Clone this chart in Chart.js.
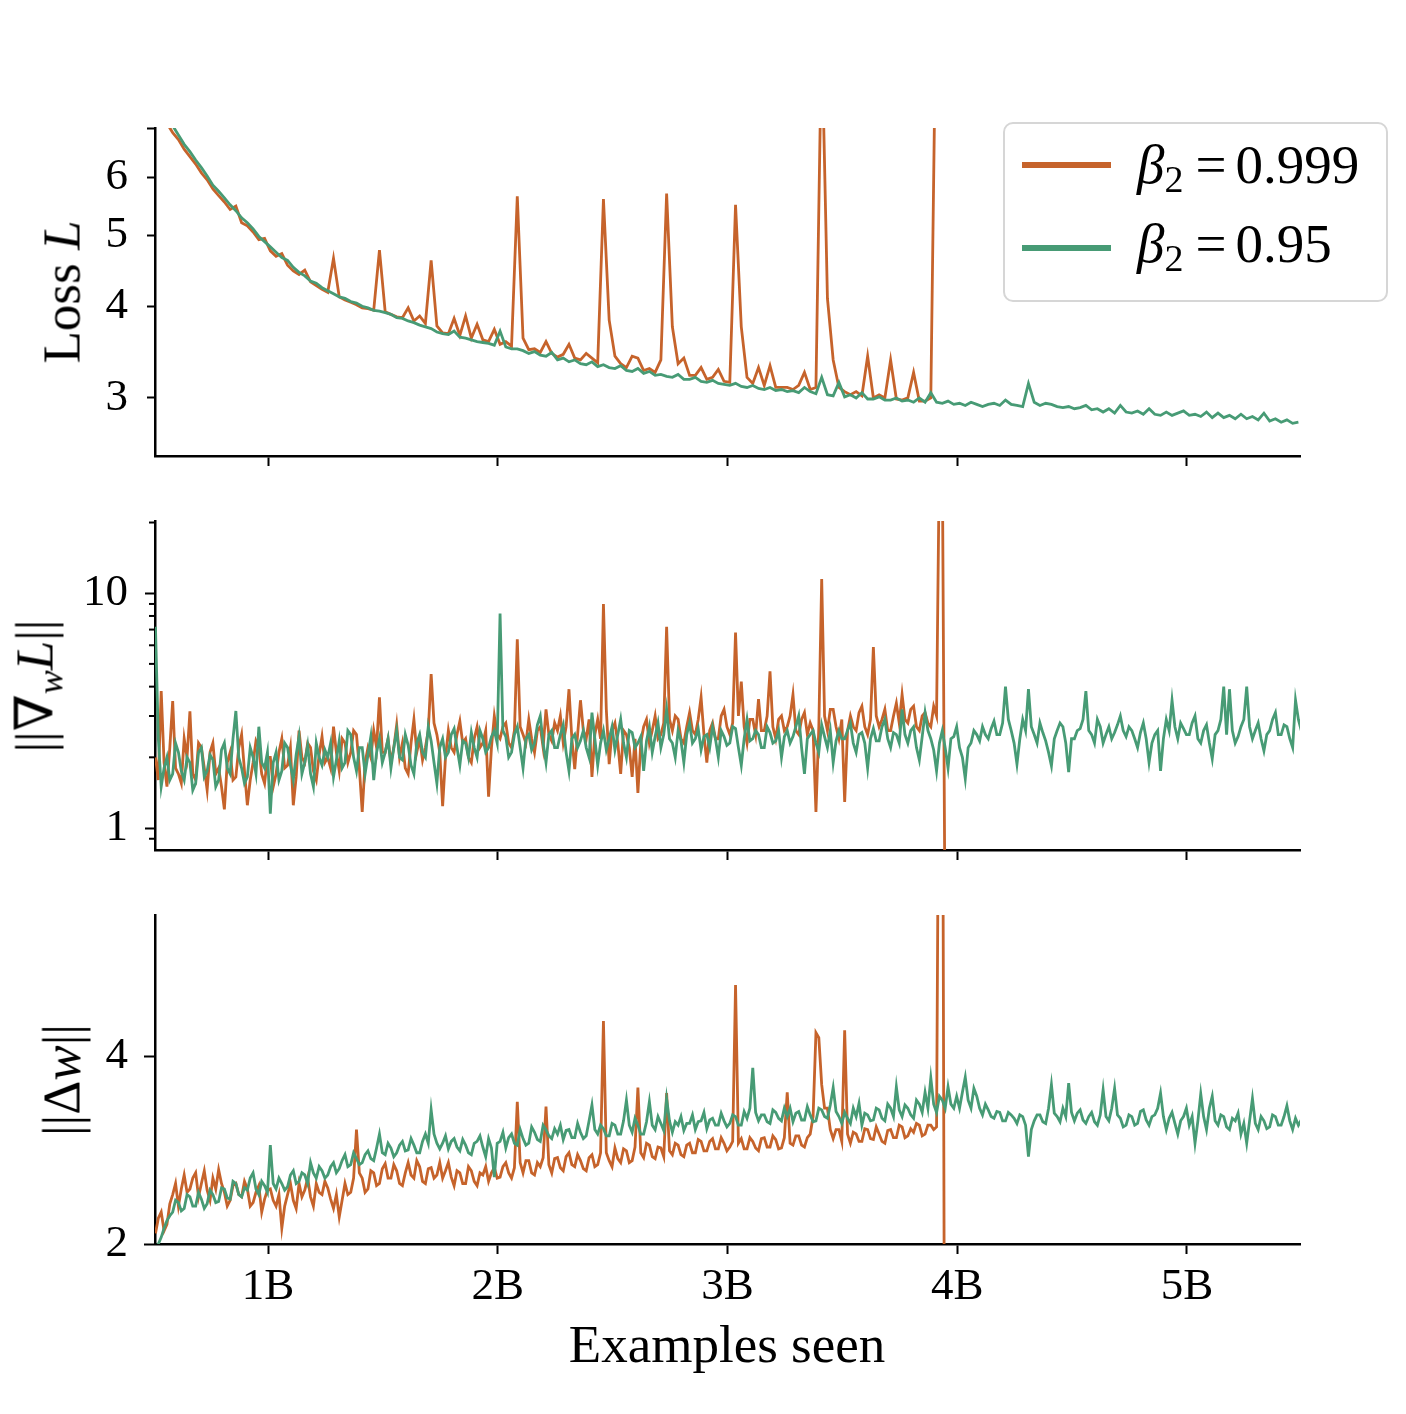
<!DOCTYPE html>
<html>
<head>
<meta charset="utf-8">
<script src="https://cdn.jsdelivr.net/npm/chart.js@4.4.1/dist/chart.umd.min.js"></script>
<style>
  body { margin: 0; width: 1406px; height: 1414px; background: #fff; position: relative; overflow: hidden; font-family: 'Liberation Serif', 'DejaVu Serif', serif; color: #000; }
  canvas { position: absolute; left: 0; }
  .ytitle { position: absolute; font-size: 53px; line-height: 53px; white-space: nowrap; transform: translate(-50%, -50%) rotate(-90deg); }
  .ytitle i { font-style: italic; }
  .sub { font-size: 36px; position: relative; top: 10px; font-style: italic; }
  #xtitle { position: absolute; left: 727px; top: 1318px; font-size: 53px; line-height: 53px; transform: translateX(-50%); white-space: nowrap; }
  #legend { position: absolute; left: 1003px; top: 122px; width: 381px; height: 176px; border: 2px solid #d6d6d6; border-radius: 10px; background: rgba(255,255,255,0.85); }
  .lg-line { position: absolute; left: 17px; width: 89px; height: 6px; }
  .lg-text { position: absolute; left: 132px; font-size: 55px; line-height: 55px; white-space: nowrap; }
  .lg-text .s2 { font-size: 38px; position: relative; top: 9px; }
  .lg-text .eq { margin: 0 9px 0 12px; }
</style>
</head>
<body>
<canvas id="lossChart" width="1406" height="408" style="top:118px"></canvas>
<canvas id="gradChart" width="1406" height="409" style="top:511px"></canvas>
<canvas id="deltaChart" width="1406" height="409" style="top:905px"></canvas>

<div class="ytitle" style="left:62px; top:292px">Loss <i>L</i></div>
<div class="ytitle" style="left:38px; top:686px">||∇<span class="sub">w</span><i>L</i>||</div>
<div class="ytitle" style="left:62px; top:1080px">||Δ<i>w</i>||</div>
<div id="xtitle">Examples seen</div>
<div id="legend"></div>

<script>
// Ejes
const xMin = 0.508, xMax = 5.492;
const xTickValues = [1, 2, 3, 4, 5];
// Muestras: empiezan en 0.51B; loss cada 0.025B, normas cada 0.0125B
const sampleStart = 0.51;
const lossStep = 0.025, normStep = 0.0125;

const seriesNames = ['0.999', '0.95'];
const ORANGE = '#c6632b', GREEN = '#479b75';

// Panel 1: Loss
const lossTicks = [3, 4, 5, 6, 7];
const lossLabels = [3, 4, 5, 6];
const greenLoss = [
  7.6, 7.4, 7.2, 7.05, 6.85, 6.65, 6.5, 6.33, 6.18, 6.02,
  5.85, 5.74, 5.62, 5.5, 5.4, 5.28, 5.2, 5.1, 4.98, 4.9,
  4.82, 4.74, 4.66, 4.62, 4.52, 4.45, 4.4, 4.33, 4.3, 4.24,
  4.2, 4.16, 4.12, 4.1, 4.06, 4.04, 4.0, 3.98, 3.95, 3.94,
  3.92, 3.9, 3.86, 3.85, 3.82, 3.8, 3.77, 3.75, 3.73, 3.69,
  3.67, 3.66, 3.7, 3.63, 3.62, 3.6, 3.58, 3.57, 3.56, 3.54,
  3.7, 3.52, 3.5, 3.5, 3.48, 3.45, 3.47, 3.43, 3.42, 3.46,
  3.38, 3.4, 3.36, 3.38, 3.34, 3.33, 3.36, 3.31, 3.33, 3.3,
  3.29, 3.32, 3.27, 3.26, 3.29, 3.24, 3.26, 3.22, 3.23, 3.21,
  3.2, 3.23, 3.18, 3.18, 3.2, 3.16, 3.15, 3.17, 3.14, 3.13,
  3.12, 3.14, 3.11, 3.1, 3.12, 3.09, 3.08, 3.1, 3.07, 3.08,
  3.06, 3.07, 3.05, 3.1, 3.06, 3.04, 3.2, 3.03, 3.02, 3.15,
  3.01, 3.03, 3.0, 3.05, 2.99, 2.99, 3.01, 2.98, 2.98, 3.0,
  2.97, 2.98, 2.96, 3.0, 2.96, 3.05, 2.96, 2.95, 2.97, 2.94,
  2.95, 2.93, 2.96, 2.94, 2.92, 2.94, 2.95, 2.93, 2.98, 2.94,
  2.93, 2.92, 3.14, 2.96, 2.93, 2.95, 2.94, 2.92, 2.91, 2.92,
  2.9, 2.91, 2.93, 2.89, 2.9, 2.87, 2.9, 2.86, 2.93, 2.87,
  2.86, 2.88, 2.85, 2.9, 2.85, 2.84, 2.87, 2.84, 2.86, 2.88,
  2.84, 2.85, 2.83, 2.87, 2.82, 2.86, 2.82, 2.84, 2.81, 2.85,
  2.81, 2.83, 2.8, 2.86, 2.79, 2.81, 2.78, 2.8, 2.77, 2.78
];
const orangeLoss = [
  7.5, 7.3, 7.1, 6.9, 6.75, 6.55, 6.4, 6.25, 6.08, 5.95,
  5.78, 5.66, 5.55, 5.42, 5.48, 5.2, 5.15, 5.05, 4.93, 4.95,
  4.76, 4.68, 4.72, 4.55, 4.47, 4.42, 4.48, 4.32, 4.27, 4.22,
  4.18, 4.65, 4.12, 4.08, 4.05, 4.02, 3.98, 3.97, 3.95, 4.77,
  3.93, 3.9, 3.87, 3.86, 3.98, 3.82, 3.88, 3.79, 4.62, 3.76,
  3.68, 3.67, 3.85, 3.65, 3.88, 3.62, 3.78, 3.6, 3.58, 3.72,
  3.55, 3.58, 3.53, 5.65, 3.62, 3.49, 3.5, 3.46, 3.58, 3.45,
  3.41, 3.44, 3.55, 3.4, 3.38, 3.45, 3.4, 3.35, 5.6, 3.83,
  3.42, 3.34, 3.3, 3.42, 3.4, 3.27, 3.29, 3.25, 3.38, 5.7,
  3.75, 3.34, 3.4, 3.22, 3.22, 3.3, 3.18, 3.2, 3.28, 3.16,
  3.15, 5.5, 3.75, 3.2, 3.14, 3.3, 3.12, 3.32, 3.1, 3.1,
  3.1, 3.08, 3.12, 3.25, 3.08, 3.1, 9.5, 4.1, 3.38, 3.1,
  3.06, 3.03, 3.06, 3.02, 3.42, 3.0, 3.03, 3.0, 3.38, 2.99,
  2.98, 3.0, 3.25, 2.97, 2.97, 3.0, 12
];

// Panel 2: ||grad L||
const gradTicks = [1, 10];
const gradMinor = [0.9, 2, 3, 4, 5, 6, 7, 8, 9, 20];
const greenGrad = [
  7.2, 2.4, 1.5, 1.8, 2.0, 1.6, 1.7, 2.3, 2.1, 1.75, 1.6, 2.0, 1.9, 1.45, 1.55, 2.1, 2.2, 1.65, 1.75, 2.05,
  1.95, 1.5, 1.6, 2.15, 2.3, 1.8, 1.7, 2.4, 3.15, 2.0, 1.8, 1.55, 1.65, 2.2, 2.0, 1.7, 2.7, 1.9, 1.8, 2.1,
  1.15, 1.9, 2.1, 1.6, 1.75, 2.3, 2.2, 1.85, 1.6, 2.05, 2.45, 1.7, 1.9, 2.25, 1.7, 1.5, 2.3, 2.0, 1.85, 2.15,
  2.0, 2.3, 1.65, 1.95, 2.35, 1.8, 1.9, 2.6, 2.5, 2.0, 1.75, 2.2, 2.2, 1.7, 2.05, 2.45, 1.6, 2.1, 2.4, 1.9,
  2.1, 2.4, 1.8, 2.2, 2.6, 2.0, 1.95, 2.5, 2.25, 1.85, 1.7, 2.3, 2.5, 2.1, 2.0, 2.7, 2.35, 1.9, 1.55, 2.2,
  2.4, 2.0, 2.1, 2.5, 2.65, 2.2, 1.85, 2.35, 2.3, 2.0, 2.55, 2.2, 2.0, 2.6, 2.4, 2.1, 2.2, 2.45, 2.6, 2.3,
  8.2, 2.6, 2.45, 2.0, 2.1, 2.5, 2.7, 2.2, 1.8, 2.4, 2.5, 2.15, 2.3, 2.75, 3.0, 2.3, 1.9, 2.5, 2.6, 2.2,
  2.2, 2.5, 2.75, 2.1, 1.75, 2.4, 2.5, 2.2, 2.35, 2.6, 2.2, 2.0, 3.1, 2.4, 1.85, 2.3, 2.6, 2.15, 2.4, 2.7,
  2.15, 2.5, 2.9, 2.3, 2.0, 2.6, 2.55, 2.2, 2.3, 2.45, 1.75, 2.35, 2.7, 2.1, 2.45, 2.8, 2.2, 2.5, 3.2, 2.4,
  2.3, 2.0, 2.6, 2.35, 1.9, 2.5, 2.8, 2.3, 2.4, 2.65, 2.15, 2.45, 2.5, 2.2, 2.7, 2.4, 2.0, 2.6, 2.45, 2.25,
  2.3, 2.7, 2.65, 2.2, 1.85, 2.4, 2.9, 2.35, 2.4, 2.6, 2.5, 2.2, 2.2, 2.7, 2.55, 2.3, 2.35, 2.6, 2.0, 2.45,
  2.6, 2.3, 2.45, 2.7, 3.0, 2.2, 1.7, 2.4, 2.5, 2.6, 2.3, 2.1, 2.75, 2.45, 2.2, 2.6, 1.9, 2.35, 2.6, 2.4,
  2.4, 2.6, 2.8, 2.3, 2.1, 2.5, 2.55, 2.3, 1.8, 2.4, 2.65, 2.35, 2.35, 2.7, 2.9, 2.4, 2.2, 2.55, 2.5, 2.3,
  3.2, 2.5, 2.3, 2.6, 2.7, 2.2, 1.95, 2.45, 3.1, 2.6, 2.4, 2.15, 1.75, 2.3, 2.6, 2.2, 1.8, 2.4, 2.45, 2.7,
  2.2, 2.0, 1.62, 2.2, 2.3, 2.6, 2.5, 2.35, 2.7, 2.5, 2.4, 2.65, 2.85, 2.5, 2.5, 2.8, 4.0, 2.9, 2.6, 2.3,
  1.87, 2.4, 2.9, 2.6, 3.9, 2.7, 2.5, 2.3, 2.8, 2.55, 2.35, 2.1, 1.84, 2.4, 2.6, 2.8, 2.7, 2.3, 1.73, 2.4,
  2.4, 2.6, 2.65, 2.9, 3.83, 2.6, 2.5, 2.3, 2.9, 2.7, 2.3, 2.5, 2.7, 2.4, 2.55, 2.75, 3.0, 2.6, 2.45, 2.7,
  2.6, 2.4, 2.2, 2.55, 2.8, 2.4, 1.9, 2.3, 2.5, 2.6, 1.75, 2.4, 2.9, 2.6, 3.5, 2.7, 2.4, 2.8, 2.65, 2.5,
  2.5, 2.8, 3.0, 2.4, 2.3, 2.6, 2.75, 2.3, 1.97, 2.5, 2.6, 2.9, 4.0, 2.5, 3.9, 2.6, 2.3, 2.45, 2.7, 2.9,
  4.0, 2.7, 2.4, 2.6, 2.8, 2.4, 2.13, 2.5, 2.6, 2.9, 3.1, 2.5, 2.5, 2.75, 2.7, 2.4, 2.2, 3.5, 2.9, 2.6
];
const orangeGrad = [
  2.0, 1.6, 3.83, 1.9, 1.5, 2.2, 3.47, 1.8, 1.7, 1.55, 2.4, 2.0, 3.14, 1.7, 1.6, 2.3, 2.2, 1.8, 1.45, 2.1,
  2.3, 1.7, 1.8, 1.5, 1.2, 1.9, 2.1, 1.6, 1.65, 2.2, 2.5, 1.75, 1.25, 1.6, 1.9, 2.35, 2.2, 1.7, 1.55, 2.0,
  2.0, 1.5, 1.7, 2.1, 2.4, 1.8, 1.85, 2.2, 1.25, 1.65, 2.6, 2.0, 1.9, 2.3, 2.2, 1.75, 1.6, 2.05, 2.45, 1.9,
  2.0, 1.8, 2.7, 2.1, 1.75, 2.4, 2.3, 1.9, 2.1, 2.6, 2.5, 1.8, 1.17, 1.9, 2.2, 2.0, 2.6, 2.2, 3.6, 2.1,
  2.1, 2.4, 1.9, 2.2, 2.75, 2.0, 2.3, 1.8, 1.7, 2.3, 2.9, 2.1, 2.4, 1.95, 2.2, 2.6, 4.52, 2.8, 2.5, 2.1,
  1.24, 2.0, 2.6, 2.2, 2.1, 2.5, 2.85, 2.3, 2.4, 2.0, 1.9, 2.4, 2.7, 2.2, 2.3, 2.6, 1.36, 2.2, 3.0, 2.5,
  2.4, 2.7, 2.8, 2.3, 2.2, 2.6, 6.37, 2.7, 2.5, 2.3, 2.9, 2.4, 2.1, 2.6, 2.7, 2.2, 3.2, 2.5, 2.35, 2.8,
  2.6, 3.0, 2.3, 2.7, 3.9, 2.4, 1.78, 2.5, 3.5, 2.6, 2.4, 2.9, 1.65, 2.5, 2.9, 2.4, 9.0, 3.2, 1.87, 2.6,
  2.8, 2.3, 1.7, 2.6, 2.5, 2.2, 1.65, 2.4, 1.41, 2.3, 2.7, 2.9, 2.3, 2.6, 3.0, 2.4, 2.5, 2.8, 7.2, 2.9,
  2.6, 3.0, 2.9, 2.4, 2.3, 2.7, 3.1, 2.6, 2.5, 2.9, 3.6, 2.5, 1.9, 2.6, 2.8, 2.4, 2.4, 3.0, 3.2, 2.7,
  2.5, 2.8, 6.8, 3.0, 4.2, 2.7, 2.3, 2.9, 2.9, 2.5, 3.54, 2.6, 2.6, 3.0, 4.65, 2.7, 2.4, 2.9, 3.0, 2.6,
  2.7, 3.0, 3.7, 2.6, 2.5, 2.9, 3.1, 2.5, 2.8, 2.6, 1.17, 2.7, 11.5, 3.0, 2.6, 3.2, 3.2, 2.7, 2.4, 2.9,
  1.29, 2.6, 3.0, 2.7, 2.6, 3.1, 3.3, 2.7, 2.5, 2.9, 5.9, 3.0, 2.7, 2.9, 3.2, 2.6, 2.6, 3.0, 3.4, 2.8,
  3.7, 2.9, 2.8, 3.2, 3.3, 2.7, 2.6, 3.0, 3.1, 2.8, 2.7, 3.3, 3.0, 40, 40, 0.3
];

// Panel 3: ||delta w||
const deltaTicks = [2, 4];
const greenDelta = [
  1.98, 2.0, 2.05, 2.12, 2.18, 2.22, 2.25, 2.35, 2.33, 2.26, 2.28, 2.4, 2.38, 2.3, 2.3, 2.42, 2.36, 2.28, 2.32, 2.44,
  2.4, 2.33, 2.34, 2.46, 2.45, 2.37, 2.36, 2.52, 2.5, 2.4, 2.38, 2.46, 2.44, 2.55, 2.6, 2.45, 2.4, 2.52, 2.48, 2.42,
  2.88, 2.5, 2.45, 2.55, 2.5, 2.44, 2.47, 2.58, 2.62, 2.5, 2.52, 2.6, 2.58, 2.5, 2.7, 2.6, 2.55, 2.66, 2.62, 2.55,
  2.58, 2.66, 2.7, 2.6, 2.64, 2.72, 2.78, 2.66, 2.68, 2.8, 2.74, 2.68, 2.7, 2.78, 2.82, 2.74, 2.72, 2.85, 3.0, 2.8,
  2.78, 2.9, 2.85, 2.76, 2.8, 2.88, 2.92, 2.82, 2.83, 2.95, 2.88, 2.8, 2.8, 2.92, 3.0, 2.9, 3.28, 3.0, 2.9, 2.84,
  2.9, 2.98, 2.84, 2.92, 2.95, 2.86, 2.82, 2.94, 2.88, 2.8, 2.78, 2.9, 2.92, 2.98, 2.86, 2.76, 2.95, 2.85, 2.56, 2.9,
  2.92, 3.02, 2.85, 2.96, 3.0, 2.9, 2.88, 3.05, 2.95, 2.88, 2.9, 3.08, 3.02, 2.94, 2.92, 3.1, 3.05, 2.98, 2.95, 3.06,
  3.0, 3.1, 2.94, 3.04, 3.05, 2.96, 2.96, 3.12, 3.02, 2.95, 2.98, 3.15, 3.34, 3.05, 3.0, 3.1, 3.06, 2.98, 2.98, 3.12,
  3.1, 3.0, 3.0, 3.15, 3.4, 3.1, 3.02, 3.18, 3.1, 3.0, 3.0, 3.14, 3.38, 3.1, 3.05, 3.2, 3.12, 3.04, 3.42, 3.15,
  3.02, 3.14, 3.1, 3.2, 3.04, 3.12, 3.12, 3.22, 3.05, 3.14, 3.15, 3.25, 3.06, 3.16, 3.18, 3.1, 3.1, 3.24, 3.15, 3.08,
  3.12, 3.22, 3.2, 3.1, 3.1, 3.26, 3.18, 3.3, 3.83, 3.25, 3.15, 3.22, 3.22, 3.14, 3.12, 3.28, 3.25, 3.18, 3.15, 3.3,
  3.2, 3.3, 3.14, 3.24, 3.26, 3.16, 3.16, 3.32, 3.22, 3.14, 3.15, 3.3, 3.28, 3.2, 3.18, 3.34, 3.56, 3.26, 3.2, 3.12,
  3.25, 3.18, 3.12, 3.3, 3.2, 3.36, 3.1, 3.24, 3.22, 3.15, 3.16, 3.3, 3.28, 3.18, 3.15, 3.35, 3.3, 3.2, 3.57, 3.28,
  3.2, 3.34, 3.3, 3.22, 3.18, 3.4, 3.35, 3.25, 3.5, 3.3, 3.69, 3.35, 3.25, 3.45, 3.4, 3.3, 3.57, 3.35, 3.3, 3.45,
  3.3, 3.5, 3.7, 3.4, 3.3, 3.55, 3.45, 3.3, 3.22, 3.35, 3.28, 3.2, 3.18, 3.26, 3.25, 3.15, 3.15, 3.25, 3.22, 3.18,
  3.12, 3.22, 3.2, 3.1, 2.76, 3.05, 3.15, 3.22, 3.22, 3.14, 3.12, 3.3, 3.6, 3.24, 3.2, 3.14, 3.3, 3.2, 3.62, 3.25,
  3.15, 3.24, 3.28, 3.16, 3.12, 3.2, 3.25, 3.14, 3.1, 3.22, 3.53, 3.2, 3.15, 3.3, 3.55, 3.22, 3.18, 3.08, 3.1, 3.22,
  3.2, 3.1, 3.12, 3.26, 3.28, 3.16, 3.1, 3.2, 3.22, 3.3, 3.49, 3.2, 3.05, 3.18, 3.25, 3.12, 3.0, 3.15, 3.2, 3.3,
  3.1, 3.2, 2.9, 3.15, 3.48, 3.2, 3.05, 3.3, 3.45, 3.15, 3.1, 3.22, 3.2, 3.08, 3.05, 3.18, 3.15, 3.24, 3.0, 3.12,
  2.9, 3.15, 3.42, 3.12, 3.05, 3.2, 3.15, 3.06, 3.08, 3.22, 3.2, 3.1, 3.1, 3.2, 3.33, 3.15, 3.05, 3.18, 3.1, 3.16
];
const orangeDelta = [
  2.08, 2.2, 2.25, 2.1, 2.15, 2.32, 2.4, 2.5, 2.3, 2.45, 2.58, 2.42, 2.45, 2.55, 2.6, 2.38, 2.5, 2.62, 2.44, 2.35,
  2.55, 2.45, 2.63, 2.5, 2.42, 2.3, 2.35, 2.48, 2.5, 2.4, 2.38, 2.52, 2.45, 2.3, 2.33, 2.42, 2.48, 2.25, 2.36, 2.44,
  2.45, 2.35, 2.3, 2.4, 2.12, 2.3, 2.4, 2.5, 2.35, 2.28, 2.5, 2.38, 2.44, 2.55, 2.38, 2.3, 2.5, 2.42, 2.4, 2.52,
  2.46, 2.36, 2.28, 2.4, 2.21, 2.35, 2.5, 2.4, 2.42, 2.55, 3.05, 2.6, 2.55, 2.42, 2.45, 2.62, 2.6, 2.48, 2.5, 2.64,
  2.69, 2.55, 2.55, 2.68, 2.62, 2.5, 2.48, 2.6, 2.7, 2.58, 2.55, 2.72, 2.66, 2.52, 2.5, 2.64, 2.65, 2.55, 2.58, 2.7,
  2.55, 2.62, 2.7, 2.56, 2.48, 2.62, 2.6, 2.5, 2.5, 2.66, 2.62, 2.52, 2.48, 2.6, 2.58, 2.66, 2.52, 2.6, 2.65, 2.55,
  2.56, 2.66, 2.7, 2.6, 2.55, 2.65, 3.38, 2.7, 2.6, 2.72, 2.72, 2.6, 2.58, 2.7, 2.66, 2.75, 3.32, 2.68, 2.6, 2.74,
  2.75, 2.65, 2.62, 2.76, 2.8, 2.68, 2.66, 2.78, 2.72, 2.64, 2.62, 2.75, 2.78, 2.66, 2.68, 2.8, 4.55, 2.8, 2.72, 2.66,
  2.85, 2.74, 2.7, 2.84, 2.82, 2.7, 2.72, 2.86, 3.56, 2.8, 2.75, 2.9, 2.88, 2.76, 2.74, 2.86, 2.85, 2.76, 3.49, 2.82,
  2.78, 2.9, 2.88, 2.78, 2.76, 2.88, 2.9, 2.8, 2.8, 2.94, 2.92, 2.82, 2.82, 2.92, 2.95, 2.84, 2.84, 2.96, 2.9, 2.82,
  2.86, 2.92, 5.2, 2.9, 2.95, 2.84, 2.84, 2.96, 2.92, 2.85, 2.82, 2.95, 2.96, 2.86, 2.86, 2.98, 2.94, 2.84, 2.85, 2.96,
  3.5, 2.9, 2.88, 2.98, 2.98, 2.88, 2.86, 2.96, 3.0, 3.2, 4.36, 4.28, 3.6, 3.3, 3.3, 3.05, 2.95, 3.05, 3.05, 2.92,
  4.4, 3.0, 2.9, 3.02, 3.0, 2.92, 2.92, 3.06, 3.05, 2.95, 2.94, 3.08, 3.0, 2.92, 2.9, 3.04, 3.05, 2.96, 2.96, 3.1,
  3.08, 2.96, 2.98, 3.06, 3.02, 3.12, 3.1, 2.98, 3.0, 3.1, 3.1, 3.05, 3.08, 20, 20, 0.5
];

const serifFont = { family: "'Liberation Serif', 'DejaVu Serif', serif", size: 45 };

// Ticks menores del eje log (mas cortos que los mayores)
const minorTicksPlugin = {
  id: 'minorTicks',
  afterDraw(chart, args, opts) {
    const vals = opts.values || [];
    const y = chart.scales.y;
    const ctx = chart.ctx;
    const left = chart.chartArea.left;
    ctx.save();
    ctx.strokeStyle = '#000';
    ctx.lineWidth = 2;
    vals.forEach(v => {
      if (v < y.min || v > y.max) return;
      const py = y.getPixelForValue(v);
      ctx.beginPath();
      ctx.moveTo(left - 6, py);
      ctx.lineTo(left, py);
      ctx.stroke();
    });
    ctx.restore();
  }
};

function toPoints(values, step) {
  return values.map((v, i) => ({ x: sampleStart + i * step, y: v }));
}

function createPanel(canvasId, green, orange, step, yMin, yMax, yTicks, yLabels, minor, showX, tickLen) {
  const ctx = document.getElementById(canvasId).getContext('2d');
  return new Chart(ctx, {
    type: 'line',
    data: {
      datasets: [
        { data: toPoints(green, step), borderColor: GREEN, borderWidth: 2.8, pointRadius: 0, tension: 0, order: 0 },
        { data: toPoints(orange, step), borderColor: ORANGE, borderWidth: 2.8, pointRadius: 0, tension: 0, order: 1 }
      ]
    },
    options: {
      responsive: false,
      animation: false,
      layout: { padding: { left: 0, right: 106, top: 10, bottom: 0 } },
      plugins: {
        legend: { display: false },
        tooltip: { enabled: false },
        minorTicks: { values: minor }
      },
      scales: {
        x: {
          type: 'linear',
          min: xMin,
          max: xMax,
          afterBuildTicks: axis => { axis.ticks = xTickValues.map(v => ({ value: v })); },
          afterFit: axis => { axis.height = 70; axis.paddingLeft = 0; axis.paddingRight = 0; },
          ticks: {
            callback: v => showX ? v + 'B' : '',
            font: serifFont,
            color: '#000',
            padding: 6,
            maxRotation: 0,
            autoSkip: false
          },
          grid: { display: true, drawOnChartArea: false, drawTicks: true, tickLength: 10, tickColor: '#000', tickWidth: 2 },
          border: { display: true, color: '#000', width: 2.5 }
        },
        y: {
          type: 'logarithmic',
          min: yMin,
          max: yMax,
          afterBuildTicks: axis => { axis.ticks = yTicks.map(v => ({ value: v })); },
          afterFit: axis => { axis.width = 155; axis.paddingTop = 0; axis.paddingBottom = 0; },
          ticks: {
            callback: v => yLabels.includes(v) ? String(v) : '',
            font: serifFont,
            color: '#000',
            padding: 155 - tickLen - 128,
            autoSkip: false
          },
          grid: { display: true, drawOnChartArea: false, drawTicks: true, tickLength: tickLen, tickColor: '#000', tickWidth: 2 },
          border: { display: true, color: '#000', width: 2.5 }
        }
      }
    },
    plugins: [minorTicksPlugin]
  });
}

createPanel('lossChart', greenLoss, orangeLoss, lossStep, 2.5, 7.0, lossTicks, lossLabels, [], false, 8);
createPanel('gradChart', greenGrad, orangeGrad, normStep, 0.806, 20.3, gradTicks, gradTicks, gradMinor, false, 10);
createPanel('deltaChart', greenDelta, orangeDelta, normStep, 2.0, 6.73, deltaTicks, deltaTicks, [], true, 11);

// Leyenda
const legend = document.getElementById('legend');
const legendColors = [ORANGE, GREEN];
const lineTops = [38, 121];
const textTops = [13, 92];
seriesNames.forEach((name, k) => {
  const line = document.createElement('div');
  line.className = 'lg-line';
  line.style.top = lineTops[k] + 'px';
  line.style.background = legendColors[k];
  legend.appendChild(line);
  const txt = document.createElement('div');
  txt.className = 'lg-text';
  txt.style.top = textTops[k] + 'px';
  txt.innerHTML = '<i>β</i><span class="s2">2</span><span class="eq">=</span>' + name;
  legend.appendChild(txt);
});
</script>
</body>
</html>
